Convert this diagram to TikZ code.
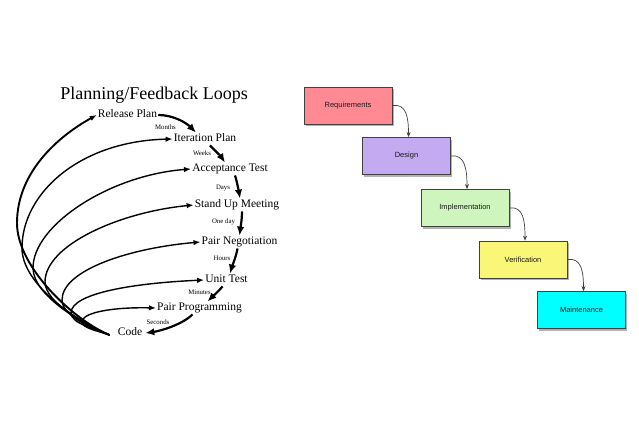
\documentclass[tikz,border=0pt]{standalone}
\usepackage{fontspec}
\setmainfont{Liberation Serif}
\newfontfamily\boxfont{Liberation Sans}
\usetikzlibrary{arrows.meta,shadows,calc}
\definecolor{reqc}{RGB}{255,138,148}
\definecolor{desc}{RGB}{196,170,240}
\definecolor{impc}{RGB}{206,245,190}
\definecolor{verc}{RGB}{250,246,120}
\definecolor{mntc}{RGB}{0,255,255}
\begin{document}
\begin{tikzpicture}[x=1pt,y=-1pt,
  lbl/.style={font=\fontsize{11.5}{12}\selectfont, inner sep=1pt, text height=8pt, text depth=2.5pt},
  tim/.style={font=\fontsize{6.8}{7}\selectfont, inner sep=0pt},
  steparrow/.style={line width=2.2pt, -{Latex[length=9pt,width=7.5pt]}},
  loopline/.style={line width=1.4pt, -{Latex[length=7pt,width=5.5pt]}},
  wbox/.style={draw=black!75, line width=0.8pt, minimum width=88pt, minimum height=37pt, inner sep=0pt,
    font=\boxfont\fontsize{7.5}{8}\selectfont, text=black!90,
    drop shadow={shadow xshift=1.5pt, shadow yshift=-2pt, opacity=0.3, fill=black}},
  wlink/.style={draw=black!75, line width=0.7pt, -{Stealth[length=5pt,width=4pt]}}
]
\useasboundingbox[fill=white] (0,0) rectangle (639,424);

% left: planning/feedback loops
\node[font=\fontsize{18}{20}\selectfont] (title) at (154,95) {Planning/Feedback Loops};
\node[lbl] (rp) at (127.5,115) {Release Plan};
\node[lbl] (ip) at (205,139) {Iteration Plan};
\node[lbl] (at) at (230,169) {Acceptance Test};
\node[lbl] (su) at (237,205) {Stand Up Meeting};
\node[lbl] (pn) at (239.5,242) {Pair Negotiation};
\node[lbl] (ut) at (226.5,280) {Unit Test};
\node[lbl] (pp) at (199.5,308) {Pair Programming};
\node[lbl] (code) at (130,333) {Code};

\node[tim] (tm) at (165.5,127) {Months};
\node[tim] (tw) at (202,153) {Weeks};
\node[tim] (td) at (223,188) {Days};
\node[tim] (to) at (223.5,222) {One day};
\node[tim] (th) at (222,258) {Hours};
\node[tim] (tmi) at (199.5,292) {Minutes};
\node[tim] (ts) at (158,322) {Seconds};

\draw[steparrow] (rp.east) .. controls +(15,0) and +(-10,-10) .. ([xshift=-9pt]ip.north);
\draw[steparrow] ([xshift=5pt]ip.south) .. controls +(5,5) and +(-4,-6) .. ([xshift=-5pt]at.north);
\draw[steparrow] ([xshift=5pt]at.south) .. controls +(2,6) and +(-1,-6) .. ([xshift=3pt]su.north);
\draw[steparrow] ([xshift=5pt]su.south) .. controls +(0,8) and +(1,-8) .. (pn.north);
\draw[steparrow] ([xshift=-2pt]pn.south) .. controls +(-1,7) and +(2,-7) .. ([xshift=3.5pt]ut.north);
\draw[steparrow] ([xshift=-4pt]ut.south) .. controls +(-4,5) and +(5,-5) .. ([xshift=8pt]pp.north);
\draw[steparrow] ([xshift=-7pt]pp.south) .. controls +(-10,10) and +(15,-2) .. ([xshift=2pt]code.east);

\coordinate (c0) at ($(code.west)+(-7,2)$);
\draw[loopline, line width=1.9pt] (c0) .. controls (75,321) and (17,268) .. (17,223) .. controls (17,173) and (57,137) .. (rp.west);
\draw[loopline] (c0) .. controls (78,322) and (22,285) .. (22,248) .. controls (22,193) and (80,141) .. (ip.west);
\draw[loopline] (c0) .. controls (82,324) and (33,295) .. (33,268) .. controls (33,225) and (110,175) .. (at.west);
\draw[loopline] (c0) .. controls (86,326) and (45,302) .. (45,282) .. controls (45,245) and (120,212) .. (su.west);
\draw[loopline] (c0) .. controls (90,328) and (62,315) .. (62,300) .. controls (62,270) and (130,248) .. (pn.west);
\draw[loopline] (c0) .. controls (94,329) and (71,323) .. (71,313) .. controls (71,293) and (135,283) .. (ut.west);
\draw[loopline] (c0) .. controls (98,331) and (82,328) .. (82,322) .. controls (82,312) and (115,307) .. (pp.west);

% right: waterfall
\node[wbox, fill=reqc] (req) at (348,105.5) {Requirements};
\node[wbox, fill=desc] (des) at (406.5,156) {Design};
\node[wbox, fill=impc] (imp) at (465,208) {Implementation};
\node[wbox, fill=verc] (ver) at (523,259.5) {Verification};
\node[wbox, fill=mntc] (mnt) at (581.5,310) {Maintenance};

\draw[wlink] (req.east) .. controls +(14,-2) and +(0,-20) .. ([xshift=2pt]des.north);
\draw[wlink] (des.east) .. controls +(14,-2) and +(0,-20) .. ([xshift=2pt]imp.north);
\draw[wlink] (imp.east) .. controls +(14,-2) and +(0,-20) .. ([xshift=2pt]ver.north);
\draw[wlink] (ver.east) .. controls +(14,-2) and +(0,-20) .. ([xshift=2pt]mnt.north);
\end{tikzpicture}
\end{document}
